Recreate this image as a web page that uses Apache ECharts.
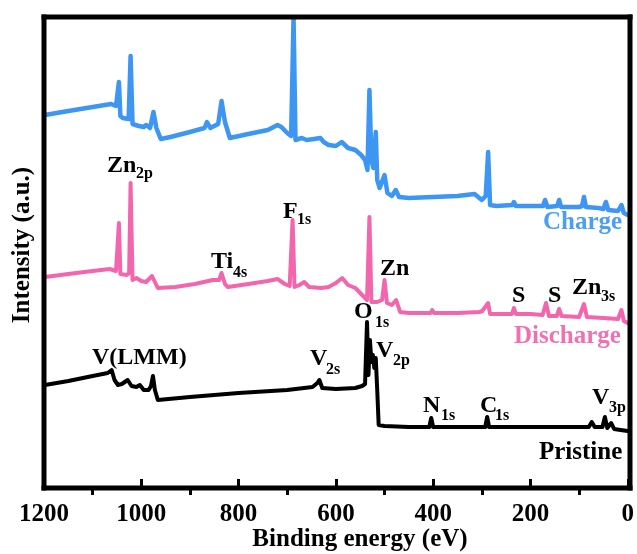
<!DOCTYPE html>
<html>
<head>
<meta charset="utf-8">
<script src="https://cdn.jsdelivr.net/npm/echarts@6/dist/echarts.min.js"></script>
<style>html,body{margin:0;padding:0;background:#fff;}#c{width:637px;height:554px;}</style>
</head>
<body>
<div id="c"></div>
<script>
// Binding energy (eV) tick labels
const majorTicks = [0, 200, 400, 600, 800, 1000, 1200];
const minorTicks = [100, 300, 500, 700, 900, 1100];
const seriesNames = ['Charge', 'Discharge', 'Pristine'];

// [binding energy (eV), intensity (a.u.)]
const charge = [
  [1198,74.6],[1150,75.4],[1100,76.2],[1062,76.8],[1052,76.4],[1049,76.2],[1046,81.2],[1043,74.4],
  [1038,74.0],[1026,73.8],[1022,86.4],[1018,72.8],[1005,72.4],[995,72.2],[990,72.6],[982,72.0],
  [975,75.2],[969,72.0],[960,69.8],[940,70.2],[900,71.2],[870,72.0],[865,73.2],[858,72.0],
  [842,72.8],[835,77.4],[828,73.2],[818,70.0],[780,70.8],[740,71.6],[720,72.6],[712,72.2],
  [700,71.0],[692,70.4],[687,94.0],[683,69.6],[670,70.0],[660,69.6],[645,69.8],[632,70.0],
  [625,69.2],[615,68.6],[600,68.4],[588,69.2],[575,68.0],[560,67.6],[548,66.6],[540,65.6],
  [535,63.6],[531,79.6],[527,65.6],[523,64.0],[518,71.2],[515,61.6],[510,60.0],[500,62.6],
  [494,59.0],[485,58.4],[477,59.6],[470,58.2],[450,58.0],[400,58.2],[350,58.4],[315,58.8],
  [300,57.6],[292,58.4],[287,67.2],[283,56.6],[270,56.4],[237,56.6],[234,57.2],[230,56.4],
  [200,56.4],[174,56.4],[170,57.6],[165,56.2],[145,56.4],[141,57.6],[137,56.2],[100,56.2],
  [94,56.4],[90,58.2],[86,56.2],[60,56.0],[50,55.8],[45,57.2],[40,55.6],[20,55.4],
  [13,56.6],[8,55.0],[0,54.6]
];
const discharge = [
  [1198,42.2],[1150,42.8],[1100,43.4],[1065,43.8],[1052,43.4],[1049,43.2],[1046,53.0],[1043,42.8],
  [1030,42.6],[1025,43.0],[1022,61.0],[1018,41.6],[1010,42.0],[1000,41.4],[990,41.2],[978,42.4],
  [972,41.2],[966,40.0],[930,40.2],[890,40.8],[853,41.6],[840,41.6],[835,43.0],[828,40.8],
  [822,40.2],[780,40.8],[740,41.4],[720,41.8],[705,40.8],[695,40.4],[689,53.6],[685,40.2],
  [675,40.6],[665,41.2],[655,40.2],[630,40.0],[615,40.2],[600,41.0],[587,42.0],[575,40.6],
  [560,40.0],[546,38.6],[536,37.6],[531,54.2],[527,37.2],[515,37.2],[505,37.6],[500,41.6],
  [495,37.0],[485,36.6],[476,37.6],[468,35.2],[450,35.0],[405,35.0],[402,35.6],[398,35.0],
  [350,35.0],[305,35.2],[299,35.4],[287,37.0],[283,34.8],[250,34.8],[238,34.8],[234,36.0],
  [230,34.8],[200,34.8],[175,34.6],[168,37.0],[162,34.4],[146,34.4],[141,35.8],[136,34.4],
  [100,34.2],[90,36.8],[84,34.2],[50,34.0],[20,33.8],[13,35.6],[8,33.4],[0,33.0]
];
const pristine = [
  [1198,20.6],[1150,21.4],[1100,22.4],[1069,23.0],[1061,23.6],[1055,21.6],[1048,20.6],[1040,20.8],
  [1028,21.6],[1020,20.4],[1010,20.2],[1003,20.6],[995,19.6],[985,19.6],[980,20.4],[976,22.4],
  [972,19.6],[966,17.6],[900,18.2],[800,19.0],[700,19.6],[648,20.2],[638,21.0],[634,21.6],
  [628,20.0],[600,19.8],[560,20.0],[546,20.4],[540,20.8],[536,33.2],[533,22.6],[530,29.6],
  [527,25.2],[524,26.6],[521,24.0],[518,26.0],[515,19.6],[512,12.6],[500,12.4],[450,12.2],
  [408,12.2],[404,14.0],[400,12.2],[350,12.2],[293,12.2],[289,14.2],[285,12.2],[200,12.2],
  [100,12.2],[80,12.2],[74,13.2],[68,12.2],[52,12.2],[47,14.2],[42,12.0],[34,13.0],
  [28,11.8],[15,11.6],[0,11.4]
];

// peak annotations: [main, sub]
const peakLabels = [
  ['Zn','2p'],['F','1s'],['Ti','4s'],['Zn',''],['S',''],['S',''],['Zn','3s'],
  ['O','1s'],['V','2p'],['V','2s'],['V(LMM)',''],['N','1s'],['C','1s'],['V','3p']
];

const FONT = '"Liberation Serif","Times New Roman",serif';
const BLUE = '#3d97f2', PINK = '#f266ad', BLACK = '#000000';

// layout
const G = {left: 44, right: 7, top: 17, bottom: 66, W: 637, H: 554};
const labelPos = [
  [107,166,136,174],[283,212,297,220],[211,262,233,273],[380,269,0,0],[512,296,0,0],[548,296,0,0],
  [572,288,601,297],[354,312,375,323],[376,351,393,361],[310,359,326,370],[92,358,0,0],
  [423,406,441,416],[480,406,495,416],[592,398,609,408]
];

const graphics = [];
function txt(t, x, y, size, color, extra) {
  const g = {
    type: 'text', x: x, y: y, silent: true, z: 50,
    style: Object.assign({
      text: t, fill: color, font: 'bold ' + size + 'px ' + FONT,
      textAlign: 'left', textVerticalAlign: 'middle', align: 'left', verticalAlign: 'middle'
    }, extra || {})
  };
  graphics.push(g);
  return g;
}
peakLabels.forEach((l, i) => {
  const p = labelPos[i];
  txt(l[0], p[0], p[1], 24, BLACK);
  if (l[1]) txt(l[1], p[2], p[3], 16, BLACK);
});
txt(seriesNames[0], 543, 223, 25, '#4a9ff0');
txt(seriesNames[1], 514, 337, 25, '#f070b0');
txt(seriesNames[2], 539, 453, 25, BLACK);
txt('Binding energy (eV)', 360, 540, 25, BLACK, {textAlign: 'center', align: 'center'});
graphics.push({
  type: 'text', x: 23, y: 245, rotation: Math.PI / 2, silent: true,
  style: {text: 'Intensity (a.u.)', fill: BLACK, font: 'bold 25px ' + FONT,
    textAlign: 'center', textVerticalAlign: 'middle', align: 'center', verticalAlign: 'middle'}
});
// plot frame as four solid bars
const fx0 = G.left, fy0 = G.top, fx1 = G.W - G.right, fy1 = G.H - G.bottom, bw = 5;
[
  [fx0 - bw / 2, fy0 - bw / 2, fx1 - fx0 + bw, bw],
  [fx0 - bw / 2, fy1 - bw / 2, fx1 - fx0 + bw, bw],
  [fx0 - bw / 2, fy0 - bw / 2, bw, fy1 - fy0 + bw],
  [fx1 - bw / 2, fy0 - bw / 2, bw, fy1 - fy0 + bw]
].forEach(r => graphics.push({
  type: 'rect', silent: true, z: 100,
  shape: {x: r[0], y: r[1], width: r[2], height: r[3]},
  style: {fill: '#000'}
}));

const hidden = {show: false};

const chart = echarts.init(document.getElementById('c'));
chart.setOption({
  animation: false,
  backgroundColor: '#fff',
  grid: {left: G.left, right: G.right, top: G.top, bottom: G.bottom, show: false},
  xAxis: [{
    type: 'value', inverse: true, min: 0, max: 1200, interval: 200, position: 'bottom',
    axisLine: {show: true, onZero: false, lineStyle: {color: '#000', width: 4}},
    axisTick: {show: true, inside: true, length: 9, lineStyle: {color: '#000', width: 3}},
    axisLabel: {show: true, color: '#000', fontFamily: FONT, fontWeight: 'bold', fontSize: 25, margin: 14,
      customValues: majorTicks, formatter: v => String(v)},
    splitLine: hidden
  }, {
    type: 'value', inverse: true, min: 0, max: 1200, position: 'bottom',
    axisLine: {show: false, onZero: false},
    axisTick: {show: true, inside: false, length: 7, customValues: minorTicks, lineStyle: {color: '#000', width: 3}},
    axisLabel: hidden, splitLine: hidden
  }],
  yAxis: {
    type: 'value', min: 0, max: 94.2,
    axisLine: {show: false, onZero: false}, axisTick: hidden, axisLabel: hidden, splitLine: hidden
  },
  series: [
    {name: seriesNames[0], type: 'line', data: charge, showSymbol: false, symbol: 'none',
      lineStyle: {color: BLUE, width: 4.5, join: 'round', cap: 'round'}, z: 3},
    {name: seriesNames[1], type: 'line', data: discharge, showSymbol: false, symbol: 'none',
      lineStyle: {color: PINK, width: 4, join: 'round', cap: 'round'}, z: 3},
    {name: seriesNames[2], type: 'line', data: pristine, showSymbol: false, symbol: 'none',
      lineStyle: {color: BLACK, width: 4, join: 'round', cap: 'round'}, z: 3}
  ],
  graphic: graphics
});
</script>
</body>
</html>
